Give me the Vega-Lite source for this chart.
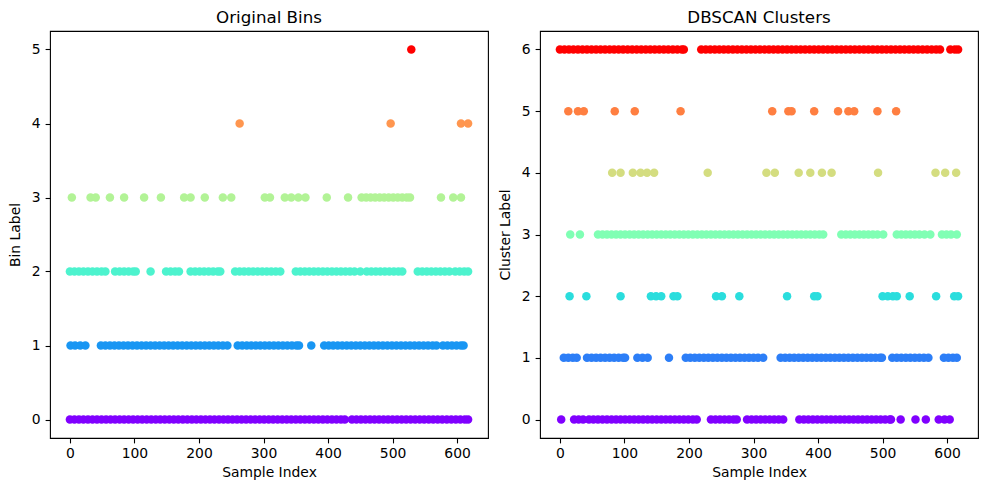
{
"$schema": "https://vega.github.io/schema/vega-lite/v6.json",
"padding": {"left": 7, "top": 8, "right": 5, "bottom": 5},
"spacing": 8,
"config": {
  "view": {"stroke": "#000", "strokeWidth": 1.1},
  "axis": {"domain": false, "grid": false, "tickColor": "#000", "tickSize": 4.9, "tickWidth": 1.1, "labelFont": "DejaVu Sans", "labelFontSize": 13.9, "labelColor": "#000", "titleFont": "DejaVu Sans", "titleFontSize": 13.9, "titleFontWeight": "normal", "titleColor": "#000"},
  "axisY": {"titlePadding": 9, "labelPadding": 4.9},
  "axisX": {"titlePadding": 5, "labelPadding": 4},
  "title": {"font": "DejaVu Sans", "fontSize": 16.7, "fontWeight": "normal", "color": "#000", "offset": 4.8, "anchor": "middle", "frame": "group"}
},
"datasets": {
"bins": [
{"i":0,"b":0},{"i":7,"b":0},{"i":14,"b":0},{"i":21,"b":0},{"i":28,"b":0},{"i":35,"b":0},{"i":42,"b":0},{"i":49,"b":0},{"i":56,"b":0},{"i":63,"b":0},{"i":70,"b":0},{"i":77,"b":0},{"i":84,"b":0},{"i":91,"b":0},{"i":98,"b":0},{"i":105,"b":0},{"i":112,"b":0},{"i":119,"b":0},{"i":126,"b":0},{"i":133,"b":0},{"i":140,"b":0},{"i":147,"b":0},{"i":154,"b":0},{"i":161,"b":0},{"i":168,"b":0},{"i":175,"b":0},{"i":182,"b":0},{"i":189,"b":0},{"i":196,"b":0},{"i":203,"b":0},{"i":210,"b":0},{"i":217,"b":0},{"i":224,"b":0},{"i":231,"b":0},{"i":238,"b":0},{"i":245,"b":0},{"i":252,"b":0},{"i":259,"b":0},{"i":266,"b":0},{"i":273,"b":0},{"i":280,"b":0},{"i":287,"b":0},{"i":294,"b":0},{"i":301,"b":0},{"i":308,"b":0},{"i":315,"b":0},{"i":322,"b":0},{"i":329,"b":0},{"i":336,"b":0},{"i":343,"b":0},{"i":350,"b":0},{"i":357,"b":0},{"i":364,"b":0},{"i":371,"b":0},{"i":378,"b":0},{"i":385,"b":0},{"i":392,"b":0},{"i":399,"b":0},{"i":406,"b":0},{"i":413,"b":0},{"i":420,"b":0},{"i":426,"b":0},{"i":437,"b":0},{"i":444,"b":0},{"i":451,"b":0},{"i":458,"b":0},{"i":465,"b":0},{"i":472,"b":0},{"i":479,"b":0},{"i":486,"b":0},{"i":493,"b":0},{"i":500,"b":0},{"i":507,"b":0},{"i":514,"b":0},{"i":521,"b":0},{"i":528,"b":0},{"i":535,"b":0},{"i":542,"b":0},{"i":549,"b":0},{"i":556,"b":0},{"i":563,"b":0},{"i":570,"b":0},{"i":577,"b":0},{"i":584,"b":0},{"i":591,"b":0},{"i":598,"b":0},{"i":605,"b":0},{"i":612,"b":0},{"i":617,"b":0},
{"i":1,"b":1},{"i":8,"b":1},{"i":16,"b":1},{"i":24,"b":1},{"i":48,"b":1},{"i":55,"b":1},{"i":62,"b":1},{"i":69,"b":1},{"i":76,"b":1},{"i":83,"b":1},{"i":90,"b":1},{"i":97,"b":1},{"i":104,"b":1},{"i":111,"b":1},{"i":118,"b":1},{"i":125,"b":1},{"i":132,"b":1},{"i":139,"b":1},{"i":146,"b":1},{"i":153,"b":1},{"i":160,"b":1},{"i":167,"b":1},{"i":174,"b":1},{"i":181,"b":1},{"i":188,"b":1},{"i":195,"b":1},{"i":202,"b":1},{"i":209,"b":1},{"i":216,"b":1},{"i":223,"b":1},{"i":230,"b":1},{"i":237,"b":1},{"i":244,"b":1},{"i":260,"b":1},{"i":267,"b":1},{"i":274,"b":1},{"i":281,"b":1},{"i":288,"b":1},{"i":295,"b":1},{"i":302,"b":1},{"i":309,"b":1},{"i":316,"b":1},{"i":323,"b":1},{"i":330,"b":1},{"i":337,"b":1},{"i":344,"b":1},{"i":351,"b":1},{"i":355,"b":1},{"i":374,"b":1},{"i":394,"b":1},{"i":401,"b":1},{"i":408,"b":1},{"i":415,"b":1},{"i":422,"b":1},{"i":429,"b":1},{"i":436,"b":1},{"i":443,"b":1},{"i":450,"b":1},{"i":457,"b":1},{"i":464,"b":1},{"i":471,"b":1},{"i":478,"b":1},{"i":485,"b":1},{"i":492,"b":1},{"i":499,"b":1},{"i":506,"b":1},{"i":513,"b":1},{"i":520,"b":1},{"i":527,"b":1},{"i":534,"b":1},{"i":541,"b":1},{"i":548,"b":1},{"i":555,"b":1},{"i":562,"b":1},{"i":568,"b":1},{"i":578,"b":1},{"i":585,"b":1},{"i":592,"b":1},{"i":599,"b":1},{"i":606,"b":1},{"i":610,"b":1},
{"i":0,"b":2},{"i":7,"b":2},{"i":14,"b":2},{"i":21,"b":2},{"i":28,"b":2},{"i":35,"b":2},{"i":42,"b":2},{"i":49,"b":2},{"i":55,"b":2},{"i":70,"b":2},{"i":77,"b":2},{"i":84,"b":2},{"i":91,"b":2},{"i":98,"b":2},{"i":102,"b":2},{"i":125,"b":2},{"i":149,"b":2},{"i":156,"b":2},{"i":163,"b":2},{"i":169,"b":2},{"i":187,"b":2},{"i":194,"b":2},{"i":201,"b":2},{"i":208,"b":2},{"i":215,"b":2},{"i":222,"b":2},{"i":229,"b":2},{"i":233,"b":2},{"i":256,"b":2},{"i":263,"b":2},{"i":270,"b":2},{"i":277,"b":2},{"i":284,"b":2},{"i":291,"b":2},{"i":298,"b":2},{"i":305,"b":2},{"i":312,"b":2},{"i":319,"b":2},{"i":326,"b":2},{"i":350,"b":2},{"i":357,"b":2},{"i":364,"b":2},{"i":371,"b":2},{"i":378,"b":2},{"i":385,"b":2},{"i":392,"b":2},{"i":399,"b":2},{"i":406,"b":2},{"i":413,"b":2},{"i":420,"b":2},{"i":427,"b":2},{"i":434,"b":2},{"i":441,"b":2},{"i":450,"b":2},{"i":460,"b":2},{"i":467,"b":2},{"i":474,"b":2},{"i":481,"b":2},{"i":488,"b":2},{"i":495,"b":2},{"i":502,"b":2},{"i":509,"b":2},{"i":515,"b":2},{"i":539,"b":2},{"i":546,"b":2},{"i":553,"b":2},{"i":560,"b":2},{"i":567,"b":2},{"i":574,"b":2},{"i":581,"b":2},{"i":588,"b":2},{"i":597,"b":2},{"i":604,"b":2},{"i":611,"b":2},{"i":617,"b":2},
{"i":3,"b":3},{"i":32,"b":3},{"i":40,"b":3},{"i":62,"b":3},{"i":84,"b":3},{"i":115,"b":3},{"i":141,"b":3},{"i":177,"b":3},{"i":187,"b":3},{"i":209,"b":3},{"i":237,"b":3},{"i":250,"b":3},{"i":302,"b":3},{"i":310,"b":3},{"i":333,"b":3},{"i":343,"b":3},{"i":354,"b":3},{"i":365,"b":3},{"i":398,"b":3},{"i":431,"b":3},{"i":452,"b":3},{"i":459,"b":3},{"i":466,"b":3},{"i":473,"b":3},{"i":480,"b":3},{"i":487,"b":3},{"i":494,"b":3},{"i":501,"b":3},{"i":508,"b":3},{"i":515,"b":3},{"i":522,"b":3},{"i":527,"b":3},{"i":575,"b":3},{"i":594,"b":3},{"i":606,"b":3},
{"i":263,"b":4},{"i":497,"b":4},{"i":606,"b":4},{"i":617,"b":4},
{"i":529,"b":5}
],
"clusters": [
{"i":0,"c":6},{"i":7,"c":6},{"i":14,"c":6},{"i":21,"c":6},{"i":28,"c":6},{"i":35,"c":6},{"i":42,"c":6},{"i":49,"c":6},{"i":56,"c":6},{"i":63,"c":6},{"i":70,"c":6},{"i":77,"c":6},{"i":84,"c":6},{"i":91,"c":6},{"i":98,"c":6},{"i":105,"c":6},{"i":112,"c":6},{"i":119,"c":6},{"i":126,"c":6},{"i":133,"c":6},{"i":140,"c":6},{"i":147,"c":6},{"i":154,"c":6},{"i":161,"c":6},{"i":168,"c":6},{"i":175,"c":6},{"i":182,"c":6},{"i":189,"c":6},{"i":192,"c":6},{"i":219,"c":6},{"i":226,"c":6},{"i":233,"c":6},{"i":240,"c":6},{"i":247,"c":6},{"i":254,"c":6},{"i":261,"c":6},{"i":268,"c":6},{"i":275,"c":6},{"i":282,"c":6},{"i":289,"c":6},{"i":296,"c":6},{"i":303,"c":6},{"i":310,"c":6},{"i":317,"c":6},{"i":324,"c":6},{"i":331,"c":6},{"i":338,"c":6},{"i":345,"c":6},{"i":352,"c":6},{"i":359,"c":6},{"i":366,"c":6},{"i":373,"c":6},{"i":380,"c":6},{"i":387,"c":6},{"i":394,"c":6},{"i":401,"c":6},{"i":408,"c":6},{"i":415,"c":6},{"i":422,"c":6},{"i":429,"c":6},{"i":436,"c":6},{"i":443,"c":6},{"i":450,"c":6},{"i":457,"c":6},{"i":464,"c":6},{"i":471,"c":6},{"i":478,"c":6},{"i":485,"c":6},{"i":492,"c":6},{"i":499,"c":6},{"i":506,"c":6},{"i":513,"c":6},{"i":520,"c":6},{"i":527,"c":6},{"i":534,"c":6},{"i":541,"c":6},{"i":548,"c":6},{"i":555,"c":6},{"i":562,"c":6},{"i":569,"c":6},{"i":576,"c":6},{"i":583,"c":6},{"i":589,"c":6},{"i":605,"c":6},{"i":612,"c":6},{"i":617,"c":6},
{"i":13,"c":5},{"i":28,"c":5},{"i":37,"c":5},{"i":85,"c":5},{"i":116,"c":5},{"i":187,"c":5},{"i":329,"c":5},{"i":354,"c":5},{"i":359,"c":5},{"i":394,"c":5},{"i":431,"c":5},{"i":447,"c":5},{"i":456,"c":5},{"i":492,"c":5},{"i":521,"c":5},
{"i":81,"c":4},{"i":94,"c":4},{"i":113,"c":4},{"i":125,"c":4},{"i":135,"c":4},{"i":146,"c":4},{"i":229,"c":4},{"i":320,"c":4},{"i":333,"c":4},{"i":370,"c":4},{"i":388,"c":4},{"i":406,"c":4},{"i":421,"c":4},{"i":493,"c":4},{"i":582,"c":4},{"i":597,"c":4},{"i":614,"c":4},
{"i":16,"c":3},{"i":31,"c":3},{"i":59,"c":3},{"i":66,"c":3},{"i":73,"c":3},{"i":80,"c":3},{"i":87,"c":3},{"i":94,"c":3},{"i":101,"c":3},{"i":108,"c":3},{"i":115,"c":3},{"i":122,"c":3},{"i":129,"c":3},{"i":136,"c":3},{"i":143,"c":3},{"i":150,"c":3},{"i":157,"c":3},{"i":164,"c":3},{"i":171,"c":3},{"i":178,"c":3},{"i":185,"c":3},{"i":192,"c":3},{"i":199,"c":3},{"i":206,"c":3},{"i":213,"c":3},{"i":220,"c":3},{"i":227,"c":3},{"i":234,"c":3},{"i":241,"c":3},{"i":248,"c":3},{"i":255,"c":3},{"i":262,"c":3},{"i":269,"c":3},{"i":276,"c":3},{"i":283,"c":3},{"i":290,"c":3},{"i":297,"c":3},{"i":304,"c":3},{"i":311,"c":3},{"i":318,"c":3},{"i":325,"c":3},{"i":332,"c":3},{"i":339,"c":3},{"i":346,"c":3},{"i":353,"c":3},{"i":360,"c":3},{"i":367,"c":3},{"i":374,"c":3},{"i":381,"c":3},{"i":388,"c":3},{"i":395,"c":3},{"i":402,"c":3},{"i":408,"c":3},{"i":436,"c":3},{"i":443,"c":3},{"i":450,"c":3},{"i":457,"c":3},{"i":464,"c":3},{"i":471,"c":3},{"i":478,"c":3},{"i":485,"c":3},{"i":492,"c":3},{"i":501,"c":3},{"i":522,"c":3},{"i":529,"c":3},{"i":536,"c":3},{"i":543,"c":3},{"i":550,"c":3},{"i":557,"c":3},{"i":565,"c":3},{"i":574,"c":3},{"i":592,"c":3},{"i":599,"c":3},{"i":606,"c":3},{"i":615,"c":3},
{"i":15,"c":2},{"i":41,"c":2},{"i":94,"c":2},{"i":141,"c":2},{"i":149,"c":2},{"i":157,"c":2},{"i":176,"c":2},{"i":182,"c":2},{"i":242,"c":2},{"i":251,"c":2},{"i":278,"c":2},{"i":352,"c":2},{"i":394,"c":2},{"i":399,"c":2},{"i":500,"c":2},{"i":508,"c":2},{"i":516,"c":2},{"i":522,"c":2},{"i":542,"c":2},{"i":583,"c":2},{"i":611,"c":2},{"i":617,"c":2},
{"i":6,"c":1},{"i":13,"c":1},{"i":20,"c":1},{"i":26,"c":1},{"i":42,"c":1},{"i":49,"c":1},{"i":56,"c":1},{"i":63,"c":1},{"i":70,"c":1},{"i":77,"c":1},{"i":84,"c":1},{"i":91,"c":1},{"i":98,"c":1},{"i":101,"c":1},{"i":120,"c":1},{"i":128,"c":1},{"i":136,"c":1},{"i":169,"c":1},{"i":195,"c":1},{"i":202,"c":1},{"i":209,"c":1},{"i":216,"c":1},{"i":223,"c":1},{"i":230,"c":1},{"i":237,"c":1},{"i":244,"c":1},{"i":251,"c":1},{"i":258,"c":1},{"i":265,"c":1},{"i":272,"c":1},{"i":279,"c":1},{"i":286,"c":1},{"i":293,"c":1},{"i":300,"c":1},{"i":307,"c":1},{"i":315,"c":1},{"i":342,"c":1},{"i":349,"c":1},{"i":356,"c":1},{"i":363,"c":1},{"i":370,"c":1},{"i":377,"c":1},{"i":384,"c":1},{"i":391,"c":1},{"i":398,"c":1},{"i":405,"c":1},{"i":412,"c":1},{"i":419,"c":1},{"i":426,"c":1},{"i":433,"c":1},{"i":440,"c":1},{"i":447,"c":1},{"i":454,"c":1},{"i":461,"c":1},{"i":468,"c":1},{"i":475,"c":1},{"i":482,"c":1},{"i":489,"c":1},{"i":496,"c":1},{"i":499,"c":1},{"i":515,"c":1},{"i":522,"c":1},{"i":529,"c":1},{"i":536,"c":1},{"i":543,"c":1},{"i":550,"c":1},{"i":557,"c":1},{"i":564,"c":1},{"i":571,"c":1},{"i":595,"c":1},{"i":602,"c":1},{"i":609,"c":1},{"i":615,"c":1},
{"i":2,"c":0},{"i":22,"c":0},{"i":29,"c":0},{"i":36,"c":0},{"i":45,"c":0},{"i":52,"c":0},{"i":59,"c":0},{"i":66,"c":0},{"i":73,"c":0},{"i":80,"c":0},{"i":87,"c":0},{"i":94,"c":0},{"i":101,"c":0},{"i":108,"c":0},{"i":115,"c":0},{"i":122,"c":0},{"i":129,"c":0},{"i":136,"c":0},{"i":143,"c":0},{"i":150,"c":0},{"i":157,"c":0},{"i":164,"c":0},{"i":171,"c":0},{"i":178,"c":0},{"i":185,"c":0},{"i":192,"c":0},{"i":199,"c":0},{"i":206,"c":0},{"i":212,"c":0},{"i":234,"c":0},{"i":241,"c":0},{"i":248,"c":0},{"i":255,"c":0},{"i":262,"c":0},{"i":269,"c":0},{"i":274,"c":0},{"i":290,"c":0},{"i":297,"c":0},{"i":304,"c":0},{"i":311,"c":0},{"i":318,"c":0},{"i":325,"c":0},{"i":332,"c":0},{"i":339,"c":0},{"i":346,"c":0},{"i":371,"c":0},{"i":378,"c":0},{"i":385,"c":0},{"i":392,"c":0},{"i":399,"c":0},{"i":406,"c":0},{"i":413,"c":0},{"i":420,"c":0},{"i":427,"c":0},{"i":434,"c":0},{"i":441,"c":0},{"i":448,"c":0},{"i":455,"c":0},{"i":462,"c":0},{"i":469,"c":0},{"i":476,"c":0},{"i":483,"c":0},{"i":490,"c":0},{"i":497,"c":0},{"i":504,"c":0},{"i":511,"c":0},{"i":513,"c":0},{"i":528,"c":0},{"i":551,"c":0},{"i":567,"c":0},{"i":587,"c":0},{"i":596,"c":0},{"i":604,"c":0}
]
},
"hconcat": [
{
  "data": {"name": "bins"},
  "title": {"text": "Original Bins"},
  "width": 438, "height": 407,
  "mark": {"type": "circle", "size": 72, "opacity": 1},
  "encoding": {
    "x": {"field": "i", "type": "quantitative", "scale": {"domain": [-30.85, 647.85], "nice": false, "zero": false}, "axis": {"values": [0,100,200,300,400,500,600], "title": "Sample Index"}},
    "y": {"field": "b", "type": "quantitative", "scale": {"domain": [-0.25, 5.25], "nice": false, "zero": false}, "axis": {"values": [0,1,2,3,4,5], "title": "Bin Label"}},
    "color": {"field": "b", "type": "ordinal", "scale": {"domain": [0,1,2,3,4,5], "range": ["#8000ff", "#1996f3", "#4df3ce", "#b2f396", "#ff964f", "#ff0000"]}, "legend": null}
  }
},
{
  "data": {"name": "clusters"},
  "title": {"text": "DBSCAN Clusters"},
  "width": 438, "height": 407,
  "mark": {"type": "circle", "size": 72, "opacity": 1},
  "encoding": {
    "x": {"field": "i", "type": "quantitative", "scale": {"domain": [-30.85, 647.85], "nice": false, "zero": false}, "axis": {"values": [0,100,200,300,400,500,600], "title": "Sample Index"}},
    "y": {"field": "c", "type": "quantitative", "scale": {"domain": [-0.3, 6.3], "nice": false, "zero": false}, "axis": {"values": [0,1,2,3,4,5,6], "title": "Cluster Label"}},
    "color": {"field": "c", "type": "ordinal", "scale": {"domain": [0,1,2,3,4,5,6], "range": ["#8000ff", "#2c7ef7", "#2adddd", "#80ffb4", "#d4dd80", "#ff7f41", "#ff0000"]}, "legend": null}
  }
}
],
"resolve": {"scale": {"color": "independent"}}
}
